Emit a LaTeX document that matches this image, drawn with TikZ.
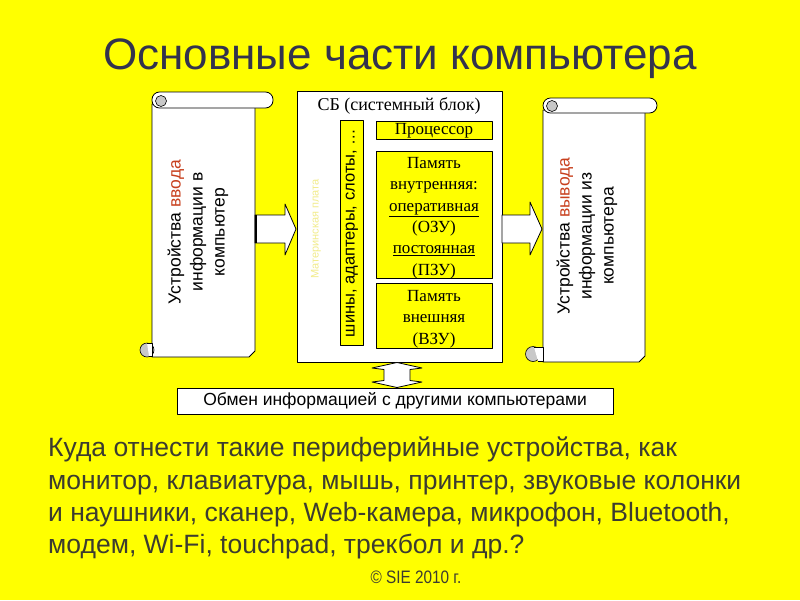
\documentclass[tikz,border=0pt]{standalone}
\usepackage{fontspec}
\setmainfont{Liberation Sans}
\newfontfamily\serifrm{Liberation Serif}
\newfontfamily\narrowsf{Liberation Sans}
\newfontfamily\narrowcp[FakeStretch=0.85]{Liberation Sans}
\usepackage{xcolor}
\definecolor{bgyel}{HTML}{FFFF00}
\definecolor{titlec}{HTML}{33334D}
\definecolor{redw}{HTML}{C8401E}
\definecolor{paletext}{HTML}{F2EC8C}
\definecolor{bodyc}{HTML}{3C3C30}
\definecolor{curl}{HTML}{C8C8C8}
\begin{document}
\begin{tikzpicture}[x=1pt,y=-1pt,
  line join=round,
  shapeline/.style={draw=black,line width=0.8pt,fill=white},
  ybox/.style={draw=black,line width=0.8pt,fill=bgyel},
  curlst/.style={draw=black,line width=0.6pt,fill=curl},
  scrolltext/.style={rotate=90,align=center,font=\fontsize{17.5}{22}\selectfont,text=black},
  sertext/.style={font=\serifrm\fontsize{17}{21.3}\selectfont,align=center,text=black},
]
\useasboundingbox (0,0) rectangle (800,600);
\fill[bgyel] (0,0) rectangle (800,600);

% title
\node (title) at (400,59) {\fontsize{44}{50}\selectfont\color{titlec}Основные части компьютера};

% ---------- left scroll
\draw[shapeline] (152,104) -- (152,357) -- (249,357) -- (255,351) -- (255,104) -- cycle;
\draw[shapeline,rounded corners=7.5pt] (152,92) rectangle (273,108);
\draw[curlst] (161,101) circle[radius=5.5];
\draw[curlst] (147,350) circle[radius=7];
\draw[black,line width=0.6pt,fill=white] (147,343) -- (152,343) -- (152,356) -- (149,356);
\node[scrolltext] (inp) at (198,232) {Устройства \textcolor{redw}{ввода}\\информации в\\компьютер};

% ---------- right scroll
\draw[shapeline] (543,110) -- (543,362) -- (639,362) -- (645,356) -- (645,110) -- cycle;
\draw[shapeline,rounded corners=7.5pt] (543,98) rectangle (657,113);
\draw[curlst] (552,106) circle[radius=5.5];
\draw[curlst] (533,354) circle[radius=7.5];
\draw[black,line width=0.6pt,fill=white] (534,347) -- (543,347) -- (543,361) -- (538,361);
\node[scrolltext] (outp) at (587,236) {Устройства \textcolor{redw}{вывода}\\информации из\\компьютера};

% ---------- system block
\node[shapeline,minimum width=205pt,minimum height=271pt,inner sep=0pt] (sb) at (399.5,226.5) {};
\node[font=\serifrm\fontsize{18}{20}\selectfont] (sbt) at (399,106) {СБ (системный блок)};
\node[rotate=90,font=\fontsize{11}{12}\selectfont,text=paletext] (mb) at (316,229) {Материнская плата};
\node[ybox,minimum width=23pt,minimum height=225pt,inner sep=0pt] (bus) at (351.5,232.5) {};
\node[rotate=90,font=\fontsize{16.5}{18}\selectfont] (bust) at (352,233) {шины, адаптеры, слоты, \dots};
\node[ybox,minimum width=116pt,minimum height=18pt,inner sep=0pt] (cpu) at (434,130) {};
\node[sertext] (cput) at (434,131) {Процессор};
\node[ybox,minimum width=116pt,minimum height=127pt,inner sep=0pt] (ram) at (434,214.5) {};
\node[sertext,anchor=north] (ramt) at (434,154) {Память\\внутренняя:\\\underline{оперативная}\\(ОЗУ)\\\underline{постоянная}\\(ПЗУ)};
\node[ybox,minimum width=116pt,minimum height=65pt,inner sep=0pt] (ext) at (434,315.5) {};
\node[sertext,anchor=north] (extt) at (434,287) {Память\\внешняя\\(ВЗУ)};

% ---------- block arrows
\draw[shapeline] (255,215) -- (285,215) -- (285,204) -- (296,229) -- (285,255) -- (285,243) -- (255,243) -- cycle;
\draw[black,line width=2pt] (256,215) -- (256,243);
\draw[shapeline] (502,215) -- (530,215) -- (530,202) -- (542,229) -- (530,255) -- (530,243) -- (502,243) -- cycle;
\draw[shapeline] (397,362.5) -- (422,368) -- (410,369.5) -- (410,380.5) -- (422,382) -- (397,387.5) -- (372,382) -- (384,380.5) -- (384,369.5) -- (372,368) -- cycle;

% ---------- bottom box
\node[shapeline,minimum width=436pt,minimum height=26pt,inner sep=0pt] (net) at (395,401) {};
\node[font=\fontsize{17.5}{20}\selectfont] (nett) at (395,401) {Обмен информацией с другими компьютерами};

% ---------- question text
\node[anchor=north west,align=left,text=bodyc,font=\narrowsf\fontsize{26.5}{32.2}\selectfont,inner sep=0pt] (q) at (48,437)
 {Куда отнести такие периферийные устройства, как\\
  монитор, клавиатура, мышь, принтер, звуковые колонки\\
  и наушники, сканер, Web-камера, микрофон, Bluetooth,\\
  модем, Wi-Fi, touchpad, трекбол и др.?};
\node[text=bodyc,font=\narrowcp\fontsize{18}{20}\selectfont] (copy) at (416,577) {© SIE 2010 г.};
\end{tikzpicture}
\end{document}
